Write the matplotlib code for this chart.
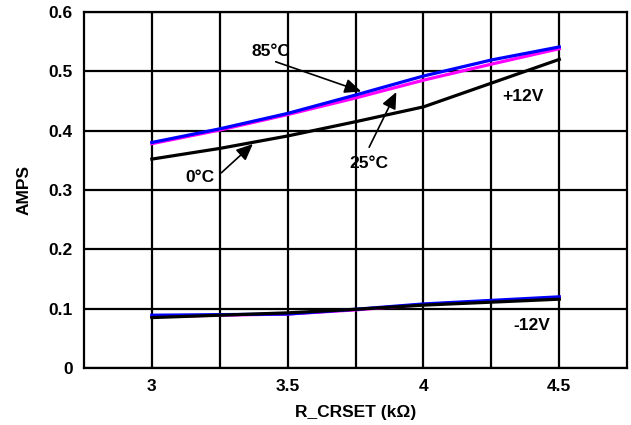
import matplotlib
matplotlib.use("Agg")
import matplotlib.pyplot as plt

plt.rcParams['font.family'] = ['Liberation Sans', 'DejaVu Sans']
plt.rcParams['font.weight'] = 'bold'

r_crset = [3.0, 3.25, 3.5, 3.75, 4.0, 4.25, 4.5]

# +12V supply current
p12_85c = [0.380, 0.403, 0.429, 0.460, 0.492, 0.519, 0.541]
p12_25c = [0.378, 0.401, 0.427, 0.455, 0.485, 0.512, 0.538]
p12_0c = [0.352, 0.370, 0.391, 0.415, 0.440, 0.480, 0.520]

# -12V supply current
m12_85c = [0.089, 0.090, 0.091, 0.099, 0.108, 0.114, 0.120]
m12_25c = [0.087, 0.089, 0.091, 0.098, 0.107, 0.113, 0.118]
m12_0c = [0.085, 0.089, 0.093, 0.099, 0.106, 0.111, 0.116]

x_ticks = [3, 3.25, 3.5, 3.75, 4, 4.25, 4.5]
x_labels = ['3', '', '3.5', '', '4', '', '4.5']
y_ticks = [0, 0.1, 0.2, 0.3, 0.4, 0.5, 0.6]
y_labels = ['0', '0.1', '0.2', '0.3', '0.4', '0.5', '0.6']

FS = 12.5

fig = plt.figure(figsize=(6.31, 4.25), dpi=100)
ax = fig.add_axes([0.133, 0.134, 0.861, 0.838])

lw = 2.3
ax.plot(r_crset, p12_0c, color='black', lw=lw, zorder=3)
ax.plot(r_crset, p12_25c, color='#ff00ff', lw=lw, zorder=4)
ax.plot(r_crset, p12_85c, color='#0000ff', lw=lw, zorder=5)
ax.plot(r_crset, m12_25c, color='#ff00ff', lw=lw, zorder=3)
ax.plot(r_crset, m12_85c, color='#0000ff', lw=lw, zorder=4)
ax.plot(r_crset, m12_0c, color='black', lw=lw, zorder=5)

ax.set_xlim(2.75, 4.75)
ax.set_ylim(0, 0.6)
ax.set_xticks(x_ticks)
ax.set_xticklabels(x_labels, fontsize=FS, fontweight='bold')
ax.set_yticks(y_ticks)
ax.set_yticklabels(y_labels, fontsize=FS, fontweight='bold')
ax.tick_params(length=0, pad=8)
ax.grid(True, color='black', lw=1.6)
for s in ax.spines.values():
    s.set_linewidth(1.6)

ax.set_xlabel('R_CRSET (k\u03a9)', fontsize=FS, fontweight='bold', labelpad=8)
ax.set_ylabel('AMPS', fontsize=FS, fontweight='bold', labelpad=12)

arrow = dict(arrowstyle='-|>,head_length=0.5,head_width=0.22', color='black',
             lw=1.2, mutation_scale=20, shrinkA=0, shrinkB=0)

ax.text(3.4375, 0.534, '85\u00b0C', fontsize=FS, fontweight='bold', ha='center', va='center')
ax.annotate('', xy=(3.771, 0.466), xytext=(3.456, 0.516), arrowprops=arrow)

ax.text(3.80, 0.345, '25\u00b0C', fontsize=FS, fontweight='bold', ha='center', va='center')
ax.annotate('', xy=(3.90, 0.465), xytext=(3.80, 0.372), arrowprops=arrow)

ax.text(3.178, 0.321, '0\u00b0C', fontsize=FS, fontweight='bold', ha='center', va='center')
ax.annotate('', xy=(3.372, 0.3775), xytext=(3.256, 0.329), arrowprops=arrow)

ax.text(4.367, 0.457, '+12V', fontsize=FS, fontweight='bold', ha='center', va='center')
ax.text(4.40, 0.072, '-12V', fontsize=FS, fontweight='bold', ha='center', va='center')

fig.savefig('out.png', dpi=100)
